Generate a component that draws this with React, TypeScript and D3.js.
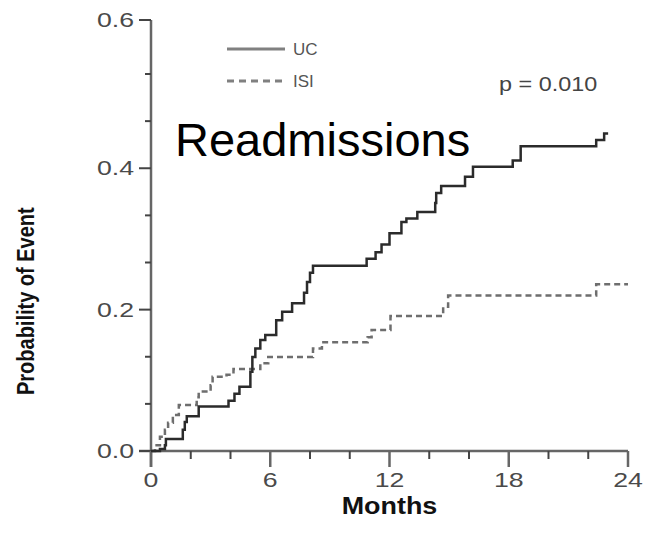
import { useRef, useEffect } from 'react';
import * as d3 from 'd3';

// Kaplan-Meier style cumulative event curves (month of step, probability after step)
const ucMonths = [0, 0.45, 0.7, 0.75, 1.6, 1.7, 1.8, 2.4, 3.9, 4.2, 4.45, 5.0, 5.1, 5.25, 5.5, 5.75, 6.3, 6.6, 7.1, 7.7, 7.85, 8.0, 8.15, 10.85, 11.3, 11.6, 12.0, 12.6, 12.85, 13.4, 14.3, 14.35, 14.6, 15.8, 16.2, 18.2, 18.6, 22.4, 22.8, 23.0];
const ucProb = [0, 0.003, 0.008, 0.017, 0.03, 0.041, 0.049, 0.063, 0.071, 0.081, 0.091, 0.112, 0.133, 0.145, 0.157, 0.164, 0.185, 0.197, 0.209, 0.224, 0.239, 0.252, 0.262, 0.272, 0.281, 0.292, 0.308, 0.324, 0.329, 0.338, 0.351, 0.365, 0.375, 0.388, 0.402, 0.411, 0.431, 0.44, 0.449, 0.449];

const isiMonths = [0, 0.2, 0.45, 0.7, 0.86, 1.1, 1.4, 2.3, 2.4, 3.0, 3.1, 3.8, 4.15, 5.5, 5.9, 8.15, 8.6, 10.9, 11.1, 12.05, 14.7, 14.95, 22.4, 24.0];
const isiProb = [0, 0.008, 0.02, 0.03, 0.04, 0.051, 0.065, 0.076, 0.084, 0.093, 0.105, 0.108, 0.116, 0.124, 0.133, 0.145, 0.154, 0.161, 0.171, 0.191, 0.204, 0.22, 0.236, 0.236];

const xTicks = [0, 6, 12, 18, 24];
const xMinorTicks = [2, 4, 8, 10, 14, 16, 20, 22];
const yTicks = [0, 0.2, 0.4, 0.6];
const yMinorTicks = [0.2 / 3, 0.4 / 3, 0.8 / 3, 1.0 / 3, 1.4 / 3, 1.6 / 3];

const legendItems = ['UC', 'ISI'];

interface Pt { m: number; p: number; }

const width = 646;
const height = 533;

const App = () => {
  const svgRef = useRef<SVGSVGElement | null>(null);

  useEffect(() => {
    const svg = d3.select(svgRef.current);
    svg.selectAll('*').remove();

    const x = d3.scaleLinear().domain([0, 24]).range([151, 628]);
    const y = d3.scaleLinear().domain([0, 1.6 / 3, 0.6]).range([451, 74, 20]);

    const axisColor = '#666';
    const labelColor = '#4a4a4a';
    const font = '"Liberation Sans", Arial, sans-serif';

    // axis lines
    svg.append('line')
      .attr('x1', x(0)).attr('x2', x(0))
      .attr('y1', y(0.6)).attr('y2', y(0) + 16)
      .attr('stroke', axisColor).attr('stroke-width', 2.5);
    svg.append('line')
      .attr('x1', x(0) - 12).attr('x2', x(24))
      .attr('y1', y(0)).attr('y2', y(0))
      .attr('stroke', axisColor).attr('stroke-width', 2.5);

    // y ticks
    svg.selectAll('.ymaj').data(yTicks).enter().append('line')
      .attr('x1', x(0) - 12).attr('x2', x(0))
      .attr('y1', d => y(d)).attr('y2', d => y(d))
      .attr('stroke', '#444').attr('stroke-width', 2);
    svg.selectAll('.ymin').data(yMinorTicks).enter().append('line')
      .attr('x1', x(0) - 6).attr('x2', x(0))
      .attr('y1', d => y(d)).attr('y2', d => y(d))
      .attr('stroke', '#444').attr('stroke-width', 2);

    svg.selectAll('.ylab').data(yTicks).enter().append('text')
      .attr('transform', d => `translate(${x(0) - 17},${y(d) + 7}) scale(1.27,1)`)
      .attr('text-anchor', 'end')
      .attr('font-family', font).attr('font-size', 21)
      .attr('fill', labelColor)
      .text(d => d.toFixed(1));

    // x ticks
    svg.selectAll('.xmaj').data(xTicks).enter().append('line')
      .attr('x1', d => x(d)).attr('x2', d => x(d))
      .attr('y1', y(0)).attr('y2', y(0) + 16)
      .attr('stroke', axisColor).attr('stroke-width', 2.5);
    svg.selectAll('.xmin').data(xMinorTicks).enter().append('line')
      .attr('x1', d => x(d)).attr('x2', d => x(d))
      .attr('y1', y(0)).attr('y2', y(0) + 8)
      .attr('stroke', '#444').attr('stroke-width', 2);

    svg.selectAll('.xlab').data(xTicks).enter().append('text')
      .attr('transform', d => `translate(${x(d)},${487}) scale(1.27,1)`)
      .attr('text-anchor', 'middle')
      .attr('font-family', font).attr('font-size', 21)
      .attr('fill', labelColor)
      .text(d => d);

    // axis titles
    svg.append('text')
      .attr('transform', `translate(${(x(0) + x(24)) / 2},514) scale(1.17,1)`)
      .attr('text-anchor', 'middle')
      .attr('font-family', font).attr('font-size', 23).attr('font-weight', 'bold')
      .attr('fill', '#111')
      .text('Months');

    svg.append('text')
      .attr('transform', 'translate(34,395) rotate(-90) scale(1,1.2)')
      .attr('text-anchor', 'start')
      .attr('font-family', font).attr('font-size', 20).attr('font-weight', 'bold')
      .attr('fill', '#111')
      .text('Probability of Event');

    // curves
    const line = d3.line<Pt>()
      .x(d => x(d.m))
      .y(d => y(d.p))
      .curve(d3.curveStepAfter);

    const isiData: Pt[] = isiMonths.map((m, i) => ({ m, p: isiProb[i] }));
    const ucData: Pt[] = ucMonths.map((m, i) => ({ m, p: ucProb[i] }));

    svg.append('path')
      .datum(isiData)
      .attr('fill', 'none')
      .attr('stroke', '#6e6e6e')
      .attr('stroke-width', 2.5)
      .attr('stroke-dasharray', '6,4')
      .attr('d', line);

    svg.append('path')
      .datum(ucData)
      .attr('fill', 'none')
      .attr('stroke', '#2b2b2b')
      .attr('stroke-width', 2.5)
      .attr('d', line);

    // legend
    const lg = svg.append('g');
    legendItems.forEach((name, i) => {
      const ly = 49 + i * 32;
      lg.append('line')
        .attr('x1', 227).attr('x2', 285)
        .attr('y1', ly).attr('y2', ly)
        .attr('stroke', '#808080')
        .attr('stroke-width', 3)
        .attr('stroke-dasharray', i === 0 ? null : '7,5');
      lg.append('text')
        .attr('x', 293).attr('y', ly + 6)
        .attr('font-family', font).attr('font-size', 17)
        .attr('fill', '#555')
        .text(name);
    });

    svg.append('text')
      .attr('transform', 'translate(499,91) scale(1.17,1)')
      .attr('font-family', font).attr('font-size', 20)
      .attr('fill', '#444')
      .text('p = 0.010');

    svg.append('text')
      .attr('x', 175).attr('y', 156)
      .attr('font-family', font).attr('font-size', 47)
      .attr('fill', '#000')
      .text('Readmissions');
  }, []);

  return (
    <svg
      ref={svgRef}
      width={width}
      height={height}
      style={{ position: 'absolute', left: 0, top: 0, background: '#fff' }}
    />
  );
};

export default App;
